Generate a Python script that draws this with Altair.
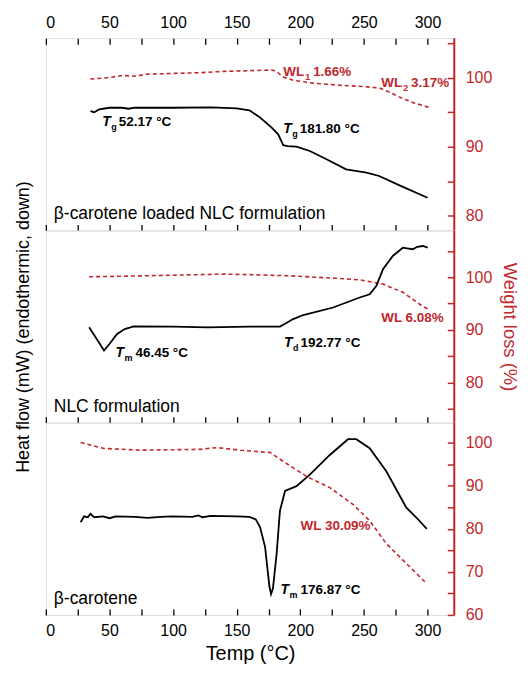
import altair as alt
import pandas as pd

RED = "#c1272d"
FONT = "Liberation Sans"
W, H = 410, 193
X_MAX = 321

x_ticks = list(range(0, 301, 25))

panel_names = ["β-carotene loaded NLC formulation", "NLC formulation", "β-carotene"]

# ---- heat flow curves (arbitrary units, endothermic down) ----
hf1_T = [35, 38, 42, 50, 60, 65, 70, 100, 130, 150, 160, 168, 177.5, 182.6, 186.6, 190, 197, 207.5, 220.6, 236, 252, 262, 278, 300]
hf1_v = [62.0, 61.5, 63.0, 63.8, 63.8, 63.3, 63.9, 63.8, 64.0, 63.5, 62.5, 58.9, 53.5, 50.0, 44.3, 43.8, 43.6, 41.3, 37.0, 31.8, 30.1, 28.3, 23.4, 17.0]

hf2_T = [34, 40, 45.7, 50, 56, 62, 69, 100, 127, 160, 184, 189, 194.4, 202.3, 225.8, 246.7, 254.5, 259.7, 265, 272.7, 280.6, 284, 288.4, 292, 296.2, 300.2]
hf2_v = [49.6, 43.5, 37.5, 40.9, 46.1, 48.7, 50.1, 50.0, 49.6, 50.0, 50.0, 51.8, 53.9, 56.0, 59.9, 65.1, 66.8, 71.1, 79.8, 86.7, 91.0, 90.7, 90.2, 91.5, 91.9, 91.0]

hf3_T = [27.4, 30, 33, 35, 38, 45, 50, 55, 70, 80, 90, 100, 115, 120, 123, 130, 150, 160, 165, 168.4, 172.3, 175.7, 177, 178.5, 181.4, 184, 188, 197, 207.5, 223.2, 237.5, 244, 254.5, 267.6, 283.2, 291, 299.4]
hf3_v = [48.2, 51.3, 50.8, 52.6, 50.8, 51.3, 50.3, 51.3, 51.0, 50.5, 51.0, 51.3, 51.0, 51.8, 50.8, 51.5, 51.3, 51.0, 49.7, 45.6, 35.4, 14.9, 10.8, 13.8, 31.9, 54.2, 64.5, 67.0, 73.0, 83.2, 91.4, 91.4, 86.7, 74.7, 55.9, 50.8, 44.8]

# ---- weight loss curves (%) ----
wl1_T = [35, 50, 60, 70, 80, 100, 120, 140, 160, 178, 182, 186, 195, 210, 230, 250, 262, 270, 280, 290, 301]
wl1_v = [99.8, 100.0, 100.3, 100.2, 100.5, 100.6, 100.7, 100.9, 101.0, 101.1, 100.8, 100.1, 99.6, 99.2, 98.9, 98.7, 98.5, 97.9, 97.0, 96.3, 95.7]

wl2_T = [34, 60, 100, 140, 160, 190, 213, 230, 247, 265, 281, 296, 301]
wl2_v = [100.1, 100.2, 100.4, 100.6, 100.5, 100.3, 100.0, 99.8, 99.5, 98.7, 97.1, 94.5, 93.9]

wl3_T = [27.4, 45.7, 74.4, 121.4, 134.4, 152.7, 173.6, 176.2, 186.6, 204.9, 223.2, 241.4, 254.5, 267.5, 283.2, 298.9]
wl3_v = [100.1, 98.7, 98.3, 98.5, 98.9, 98.3, 97.8, 97.8, 95.7, 92.2, 89.6, 85.7, 81.9, 76.6, 72.0, 67.4]

hf_T = [hf1_T, hf2_T, hf3_T]
hf_v = [hf1_v, hf2_v, hf3_v]
wl_T = [wl1_T, wl2_T, wl3_T]
wl_v = [wl1_v, wl2_v, wl3_v]

wl_domains = [[77.9, 105.7], [72.4, 108.9], [60, 104.7]]
wl_ticks = [[80, 85, 90, 95, 100, 105], [75, 80, 85, 90, 95, 100, 105], [60, 65, 70, 75, 80, 85, 90, 95, 100]]

# ---- annotations ----
ann_panel = [0, 0, 0, 0, 1, 1, 1, 2, 2]
ann_kind = ["T", "T", "WL", "WL", "T", "T", "WL0", "T", "WL0"]
ann_prefix = ["T", "T", "WL", "WL", "T", "T", "WL 6.08%", "T", "WL 30.09%"]
ann_sub = ["g", "g", "1", "2", "m", "d", "", "m", ""]
ann_rest = ["52.17 °C", "181.80 °C", "1.66%", "3.17%", "46.45 °C", "192.77 °C", "", "176.87 °C", ""]
ann_T = [44.4, 186.6, 186.6, 263.6, 54.8, 187.2, 263.6, 184.5, 200.2]
ann_hf = [54.2, 50.8, 80.5, 74.5, 34.0, 39.1, 52.2, 11.0, 44.4]

ann = pd.DataFrame({
    "panel": ann_panel, "kind": ann_kind, "prefix": ann_prefix, "sub": ann_sub,
    "rest": ann_rest, "T": ann_T, "hf": ann_hf,
})
ann["c"] = ann["kind"].map(lambda k: "black" if k == "T" else RED)

xs = alt.Scale(domain=[0, X_MAX], nice=False, zero=False)
hs = alt.Scale(domain=[0, 100], nice=False, zero=False)
label_expr = "datum.value % 50 === 0 ? datum.label : ''"


def xnone():
    return alt.X("T:Q", scale=xs, axis=None)


def ynone():
    return alt.Y("hf:Q", scale=hs, axis=None)


def txt(df, size, dx=0, dy=0, italic=False, field="prefix"):
    kw = dict(align="left", baseline="alphabetic", font=FONT, fontWeight="bold", fontSize=size,
              dx=dx, dy=dy)
    if italic:
        kw["fontStyle"] = "italic"
    return alt.Chart(df).mark_text(**kw).encode(
        x=xnone(), y=ynone(), text=f"{field}:N", color=alt.Color("c:N", scale=None))


def panel(i):
    hf = pd.DataFrame({"T": hf_T[i], "hf": hf_v[i]})
    wl = pd.DataFrame({"T": wl_T[i], "wl": wl_v[i]})

    bottom_kw = dict(orient="bottom", values=x_ticks, offset=-6, tickSize=6, domain=False,
                     grid=False, tickColor="black", tickWidth=1.3, labels=(i == 2))
    if i == 2:
        bottom_kw.update(labelExpr=label_expr, labelFontSize=16, labelPadding=8, labelColor="black",
                         title="Temp (°C)", titleFontSize=20, titleFontWeight="normal",
                         titlePadding=5, titleColor="black")
    else:
        bottom_kw.update(title=None)

    if i == 1:
        left_axis = alt.Axis(orient="left", title="Heat flow (mW) (endothermic, down)", labels=False,
                             ticks=False, domain=False, grid=False, titleFontSize=18,
                             titleFontWeight="normal", titlePadding=13, titleColor="black")
    else:
        left_axis = None

    hf_line = alt.Chart(hf).mark_line(color="black", strokeWidth=1.8).encode(
        x=alt.X("T:Q", scale=xs, axis=alt.Axis(**bottom_kw)),
        y=alt.Y("hf:Q", scale=hs, axis=left_axis),
    )

    if i == 0:
        top_axis = alt.Axis(orient="top", values=x_ticks, offset=-6, tickSize=6, domain=False,
                            grid=False, tickColor="black", tickWidth=1.3, labelExpr=label_expr,
                            labelFontSize=16, labelPadding=8, labelColor="black", title=None)
        wl_x = alt.X("T:Q", scale=xs, axis=top_axis)
    else:
        wl_x = xnone()

    right_kw = dict(orient="right", values=wl_ticks[i], offset=-7, tickSize=7, domain=False,
                    grid=False, tickColor=RED, tickWidth=1.5, labelColor=RED, labelFontSize=16,
                    labelPadding=11, labelExpr="datum.value % 10 === 0 ? datum.label : ''")
    if i == 1:
        right_kw.update(title="Weight loss (%)", titleColor=RED, titleFontSize=18.5,
                        titleFontWeight="normal", titlePadding=8)
    else:
        right_kw.update(title=None)

    wl_line = alt.Chart(wl).mark_line(color=RED, strokeWidth=1.6, strokeDash=[4, 3]).encode(
        x=wl_x,
        y=alt.Y("wl:Q", scale=alt.Scale(domain=wl_domains[i], nice=False, zero=False),
                axis=alt.Axis(**right_kw)),
    )

    a = ann[ann["panel"] == i]
    a_t = a[a["kind"] == "T"]
    a_tn = a_t[a_t["sub"] != "m"]
    a_tw = a_t[a_t["sub"] == "m"]
    a_wl = a[a["kind"] == "WL"]
    a_wl0 = a[a["kind"] == "WL0"]

    layers = [wl_line, hf_line]
    if len(a_t):
        layers += [txt(a_t, 14, italic=True), txt(a_t, 9, dx=9, dy=4, field="sub")]
    if len(a_tn):
        layers.append(txt(a_tn, 13.5, dx=16.5, field="rest"))
    if len(a_tw):
        layers.append(txt(a_tw, 13.5, dx=20, field="rest"))
    if len(a_wl):
        layers += [txt(a_wl, 13.5), txt(a_wl, 9, dx=22, dy=4, field="sub"),
                   txt(a_wl, 13.5, dx=30, field="rest")]
    if len(a_wl0):
        layers.append(txt(a_wl0, 13.5))

    name_df = pd.DataFrame({"name": [panel_names[i]]})
    layers.append(
        alt.Chart(name_df).mark_text(align="left", baseline="alphabetic", font=FONT, fontSize=17.5,
                                     color="black").encode(
            x=alt.value(8), y=alt.value(H - 11), text="name:N")
    )
    layers.append(
        alt.Chart(name_df).mark_rule(color=RED, strokeWidth=2).encode(
            x=alt.value(W), y=alt.value(0), y2=alt.value(H))
    )

    return alt.layer(*layers).resolve_scale(y="independent").resolve_axis(
        x="independent", y="independent").properties(width=W, height=H)


chart = alt.vconcat(panel(0), panel(1), panel(2), spacing=0, bounds="flush").properties(
    padding={"left": 6, "top": 4, "right": 0, "bottom": 0}
).configure_view(
    stroke="black", strokeWidth=1.5
).configure_axis(labelFont=FONT, titleFont=FONT).configure(font=FONT)

chart.save("out.html", embed_options={"renderer": "svg", "actions": False})
